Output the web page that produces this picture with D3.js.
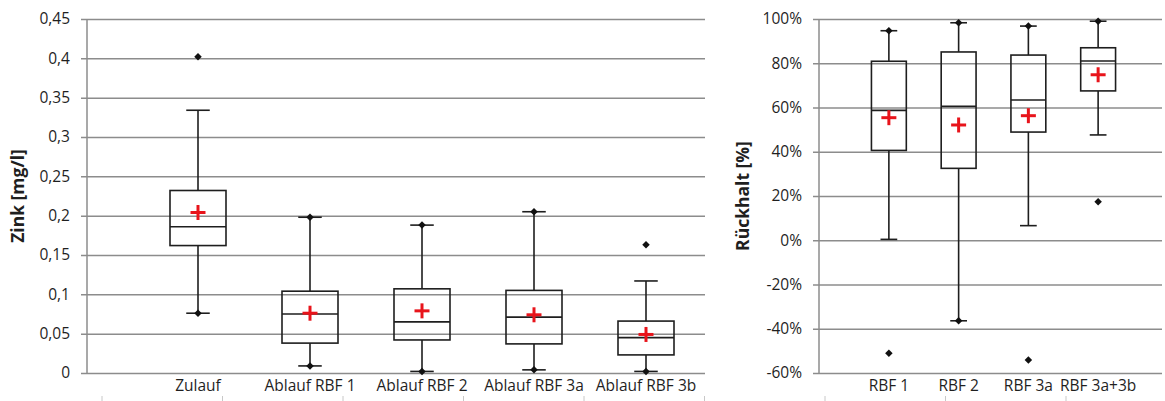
<!DOCTYPE html>
<html lang="de">
<head>
    <meta charset="UTF-8">
    <title>Zink Boxplots</title>
    <script src="https://cdnjs.cloudflare.com/ajax/libs/d3/7.8.5/d3.min.js"></script>
    <style>
        * { margin: 0; padding: 0; }
        body { background: #fff; width: 1165px; height: 401px; overflow: hidden; }
        svg text { font-family: "Open Sans", "Noto Sans", sans-serif; fill: #1f1f1f; }
        .grid line, .grid path { stroke: #8c8c8c; stroke-width: 1.5px; }
        .box { fill: none; stroke: #1e1e1e; stroke-width: 1.6px; }
    </style>
</head>
<body>
<svg id="chart" width="1165" height="401"></svg>
<script>
    // Linkes Diagramm: Zink-Konzentrationen [mg/l]
    const catsL = ["Zulauf", "Ablauf RBF 1", "Ablauf RBF 2", "Ablauf RBF 3a", "Ablauf RBF 3b"];
    const minL = [0.076, 0.009, 0.002, 0.004, 0.002];
    const whiskLoL = [0.076, 0.009, 0.002, 0.004, 0.002];
    const q1L = [0.162, 0.038, 0.042, 0.037, 0.023];
    const medL = [0.186, 0.075, 0.065, 0.071, 0.045];
    const q3L = [0.232, 0.104, 0.107, 0.105, 0.066];
    const whiskHiL = [0.334, 0.198, 0.188, 0.205, 0.117];
    const maxL = [0.402, 0.198, 0.188, 0.205, 0.163];
    const meanL = [0.204, 0.076, 0.079, 0.074, 0.049];
    const ticksL = [0, 0.05, 0.1, 0.15, 0.2, 0.25, 0.3, 0.35, 0.4, 0.45];

    // Rechtes Diagramm: Rückhalt [%]
    const catsR = ["RBF 1", "RBF 2", "RBF 3a", "RBF 3a+3b"];
    const minR = [-51.1, -36.4, -54.1, 17.4];
    const whiskLoR = [0.4, -36.4, 6.6, 47.6];
    const q1R = [40.6, 32.5, 48.9, 67.5];
    const medR = [58.7, 60.5, 63.4, 81.0];
    const q3R = [80.9, 85.1, 83.7, 87.0];
    const whiskHiR = [94.7, 98.3, 96.8, 99.0];
    const maxR = [94.7, 98.3, 96.8, 99.0];
    const meanR = [55.4, 52.1, 56.3, 74.8];
    const ticksR = [-60, -40, -20, 0, 20, 40, 60, 80, 100];

    const svg = d3.select("#chart");
    const fmtL = d => d3.format("")(d).replace(".", ",");
    const fmtR = d => d + "%";

    function drawPanel(cfg) {
        const g = svg.append("g");
        const y = d3.scaleLinear().domain(cfg.domain).range([373, 19]);
        const x = d3.scaleBand().domain(cfg.cats).range(cfg.bandRange);
        const bw = x.bandwidth();
        const cx = c => x(c) + bw / 2;

        // Gitternetz + y-Achse
        const grid = g.append("g").attr("class", "grid")
            .attr("transform", `translate(${cfg.left},0)`)
            .call(d3.axisLeft(y).tickValues(cfg.ticks).tickSize(-(cfg.right - cfg.left)).tickFormat(""));
        grid.select(".domain").remove();
        grid.selectAll(".tick line").attr("x1", -6);

        g.append("line")
            .attr("x1", cfg.left).attr("x2", cfg.left)
            .attr("y1", y(cfg.domain[0])).attr("y2", y(cfg.domain[1]))
            .attr("stroke", "#8c8c8c").attr("stroke-width", 1.5);

        g.selectAll(".ylab").data(cfg.ticks).join("text")
            .attr("x", cfg.left - 17).attr("y", d => y(d))
            .attr("dy", "0.35em").attr("text-anchor", "end")
            .style("font-size", "15.5px")
            .text(cfg.fmt);

        g.append("text")
            .attr("transform", `translate(${cfg.titleX},${(y(cfg.domain[0]) + y(cfg.domain[1])) / 2}) rotate(-90)`)
            .attr("text-anchor", "middle").attr("dy", "0.35em")
            .style("font-size", "17.5px").style("font-weight", "bold")
            .text(cfg.title);

        g.selectAll(".xlab").data(cfg.cats).join("text")
            .attr("x", cx).attr("y", 391)
            .attr("text-anchor", "middle")
            .style("font-size", "15.5px")
            .text(d => d);

        const boxW = bw * 0.5, capW = bw * cfg.cap;
        cfg.cats.forEach((c, i) => {
            const b = g.append("g").attr("class", "box");
            // Whisker
            b.append("line").attr("x1", cx(c)).attr("x2", cx(c))
                .attr("y1", y(cfg.whiskHi[i])).attr("y2", y(cfg.q3[i]));
            b.append("line").attr("x1", cx(c)).attr("x2", cx(c))
                .attr("y1", y(cfg.q1[i])).attr("y2", y(cfg.whiskLo[i]));
            [cfg.whiskHi[i], cfg.whiskLo[i]].forEach(v => {
                b.append("line").attr("x1", cx(c) - capW / 2).attr("x2", cx(c) + capW / 2)
                    .attr("y1", y(v)).attr("y2", y(v));
            });
            // Box
            b.append("rect").attr("x", cx(c) - boxW / 2).attr("width", boxW)
                .attr("y", y(cfg.q3[i])).attr("height", y(cfg.q1[i]) - y(cfg.q3[i]));
            b.append("line").attr("x1", cx(c) - boxW / 2).attr("x2", cx(c) + boxW / 2)
                .attr("y1", y(cfg.med[i])).attr("y2", y(cfg.med[i]));
            // Min/Max
            [cfg.min[i], cfg.max[i]].forEach(v => {
                g.append("path").attr("d", d3.symbol(d3.symbolSquare, 28)())
                    .attr("transform", `translate(${cx(c)},${y(v)}) rotate(45)`)
                    .attr("fill", "#111");
            });
            // Mittelwert
            const m = g.append("g").attr("transform", `translate(${cx(c)},${y(cfg.mean[i])})`)
                .attr("stroke", "#e8141b").attr("stroke-width", 3);
            m.append("line").attr("x1", -7.5).attr("x2", 7.5);
            m.append("line").attr("y1", -7.5).attr("y2", 7.5);
        });
    }

    drawPanel({
        cats: catsL, domain: [0, 0.45], ticks: ticksL, fmt: fmtL,
        left: 87, right: 705, bandRange: [142, 702], cap: 0.21,
        title: "Zink [mg/l]", titleX: 18,
        min: minL, whiskLo: whiskLoL, q1: q1L, med: medL, q3: q3L,
        whiskHi: whiskHiL, max: maxL, mean: meanL
    });

    drawPanel({
        cats: catsR, domain: [-60, 100], ticks: ticksR, fmt: fmtR,
        left: 819, right: 1162, bandRange: [854, 1133], cap: 0.24,
        title: "Rückhalt [%]", titleX: 743,
        min: minR, whiskLo: whiskLoR, q1: q1R, med: medR, q3: q3R,
        whiskHi: whiskHiR, max: maxR, mean: meanR
    });

    // kleine Teilstriche am unteren Rand
    const tickIdx = d3.range(9);
    const xt = d3.scaleLinear().domain([0, 8]).range([102, 1066]);
    svg.append("g").selectAll("line").data(tickIdx).join("line")
        .attr("x1", d => xt(d)).attr("x2", d => xt(d))
        .attr("y1", 396).attr("y2", 401)
        .attr("stroke", "#c8c8c8").attr("stroke-width", 1);
</script>
</body>
</html>
